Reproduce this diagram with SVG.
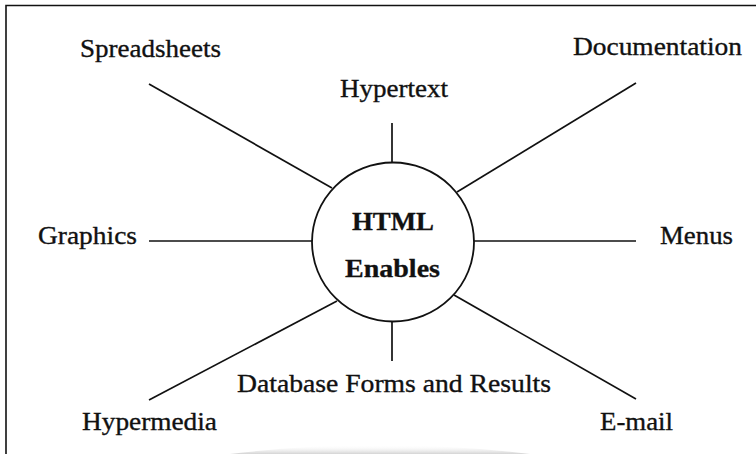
<svg xmlns="http://www.w3.org/2000/svg" width="756" height="454" viewBox="0 0 756 454">
  <defs>
    <style>
      .frame { fill: none; stroke: #111; stroke-width: 1.6; }
      .spoke { stroke: #111; stroke-width: 1.7; fill: none; }
      .hub { fill: #fff; stroke: #111; stroke-width: 1.8; }
      .lbl { font-family: "Liberation Serif", "Times New Roman", serif; font-size: 26px; fill: #111; stroke: #111; stroke-width: 0.35; }
      .hubtxt { font-family: "Liberation Serif", "Times New Roman", serif; font-size: 26px; font-weight: bold; fill: #111; stroke: #111; stroke-width: 0.3; text-anchor: middle; }
    </style>
    <linearGradient id="curl" x1="0" y1="0" x2="0" y2="1">
      <stop offset="0" stop-color="#ffffff" stop-opacity="0"/>
      <stop offset="1" stop-color="#cfcfcf" stop-opacity="0.9"/>
    </linearGradient>
  </defs>

  <rect width="756" height="454" fill="#ffffff"/>

  <!-- page shading along the bottom edge -->
  <path d="M 230 454 Q 380 436 530 454 Z" fill="url(#curl)"/>

  <!-- outer frame (top and left edges) -->
  <path class="frame" d="M 6 454 L 6 5.5 L 756 5.5"/>

  <!-- spokes -->
  <g id="connectors">
    <line class="spoke" x1="149" y1="84" x2="332" y2="188"/>
    <line class="spoke" x1="392" y1="123" x2="392" y2="163"/>
    <line class="spoke" x1="636" y1="83" x2="457" y2="192"/>
    <line class="spoke" x1="149" y1="241" x2="312" y2="241"/>
    <line class="spoke" x1="474" y1="241" x2="636" y2="241"/>
    <line class="spoke" x1="149" y1="400" x2="337" y2="301"/>
    <line class="spoke" x1="392" y1="321" x2="392" y2="361"/>
    <line class="spoke" x1="454" y1="295" x2="636" y2="399"/>
  </g>

  <!-- hub -->
  <g id="hub">
    <ellipse class="hub" cx="393" cy="242" rx="81" ry="79.5"/>
    <text class="hubtxt" x="393" y="230" textLength="82" lengthAdjust="spacingAndGlyphs">HTML</text>
    <text class="hubtxt" x="392.5" y="277" textLength="95" lengthAdjust="spacingAndGlyphs">Enables</text>
  </g>

  <g id="spreadsheets"><text class="lbl" x="80" y="57" textLength="141" lengthAdjust="spacingAndGlyphs">Spreadsheets</text></g>
  <g id="hypertext"><text class="lbl" x="340" y="97" textLength="108" lengthAdjust="spacingAndGlyphs">Hypertext</text></g>
  <g id="documentation"><text class="lbl" x="573" y="55" textLength="169" lengthAdjust="spacingAndGlyphs">Documentation</text></g>
  <g id="graphics"><text class="lbl" x="38" y="244" textLength="99" lengthAdjust="spacingAndGlyphs">Graphics</text></g>
  <g id="menus"><text class="lbl" x="660" y="244" textLength="73" lengthAdjust="spacingAndGlyphs">Menus</text></g>
  <g id="hypermedia"><text class="lbl" x="82" y="430" textLength="135" lengthAdjust="spacingAndGlyphs">Hypermedia</text></g>
  <g id="database"><text class="lbl" x="237" y="392" textLength="314" lengthAdjust="spacingAndGlyphs">Database Forms and Results</text></g>
  <g id="email"><text class="lbl" x="600" y="430" textLength="73" lengthAdjust="spacingAndGlyphs">E-mail</text></g>
</svg>
